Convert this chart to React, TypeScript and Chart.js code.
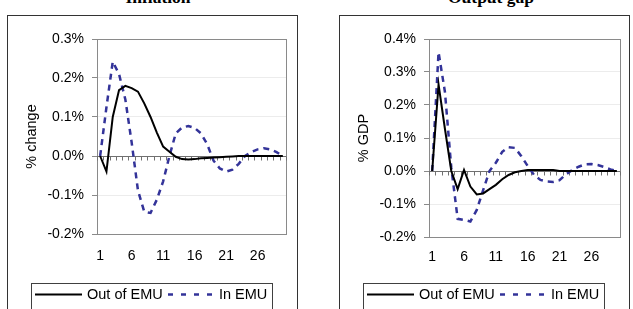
import { useEffect, useRef } from "react";
import { Chart, registerables } from "chart.js";

Chart.register(...registerables);

// Quarters after the shock
const periods = [
  "1", "2", "3", "4", "5", "6", "7", "8", "9", "10",
  "11", "12", "13", "14", "15", "16", "17", "18", "19", "20",
  "21", "22", "23", "24", "25", "26", "27", "28", "29", "30",
];

// Inflation response (% change)
const inflationOutEMU = [
  0, -0.04, 0.1, 0.169, 0.18, 0.174, 0.165, 0.135, 0.1, 0.06,
  0.024, 0.011, -0.002, -0.008, -0.009, -0.008, -0.006, -0.005, -0.004, -0.003,
  -0.002, -0.001, 0, 0, 0, 0, 0, 0, 0, 0,
];
const inflationInEMU = [
  0, 0.125, 0.242, 0.21, 0.145, 0.035, -0.088, -0.143, -0.146, -0.112,
  -0.065, 0.0, 0.058, 0.073, 0.077, 0.072, 0.058, 0.03, -0.012, -0.032,
  -0.04, -0.035, -0.02, 0.0, 0.01, 0.017, 0.02, 0.017, 0.01, 0.0,
];

// Output gap response (% GDP)
const outputOutEMU = [
  0, 0.262, 0.128, 0.0, -0.055, 0.003, -0.047, -0.071, -0.068, -0.055,
  -0.042, -0.025, -0.012, -0.004, 0.0, 0.003, 0.003, 0.003, 0.003, 0.003,
  0, 0, 0, 0, 0, 0, 0, 0, 0, 0,
];
const outputInEMU = [
  0, 0.36, 0.24, 0.01, -0.145, -0.148, -0.153, -0.118, -0.058, 0.0,
  0.025, 0.058, 0.072, 0.07, 0.045, 0.015, -0.012, -0.027, -0.032, -0.033,
  -0.028, -0.01, 0.003, 0.013, 0.02, 0.021, 0.018, 0.012, 0.005, 0.0,
];

const seriesNames = ["Out of EMU", "In EMU"];

const SANS = "'Liberation Sans', Arial, sans-serif";
const SERIF = "'Liberation Serif', 'Times New Roman', serif";
const OUT_COLOR = "#000000";
const IN_COLOR = "#333399";
const IN_DASH = [6, 5];
const LEGEND_DASH = [5, 8];

const CANVAS_W = 289;
const CANVAS_H = 293;

type PanelProps = {
  yTitle: string;
  yMin: number;
  yMax: number;
  outValues: number[];
  inValues: number[];
  areaRight: number;
  areaBottom: number;
  xLabelPad: number;
};

// Frame, zero axis with its tick marks, and the boxed legend
const decorPlugin = {
  id: "panelDecor",
  beforeDatasetsDraw(chart: any) {
    const { ctx, chartArea } = chart;
    const x = chart.scales.x;
    const y = chart.scales.y;
    const l = Math.round(chartArea.left);
    const r = Math.round(chartArea.right);
    const t = Math.round(chartArea.top);
    const b = Math.round(chartArea.bottom);
    ctx.save();
    ctx.strokeStyle = "#8a8a8a";
    ctx.lineWidth = 1;
    ctx.strokeRect(l + 0.5, t + 0.5, r - l, b - t);

    const y0 = Math.round(y.getPixelForValue(0)) + 0.5;
    ctx.strokeStyle = "#707070";
    ctx.beginPath();
    ctx.moveTo(l, y0);
    ctx.lineTo(r, y0);
    const n = chart.data.labels.length;
    const step = x.getPixelForValue(1) - x.getPixelForValue(0);
    for (let i = 0; i <= n; i++) {
      const px =
        i === 0
          ? x.getPixelForValue(0) - step / 2
          : i === n
          ? x.getPixelForValue(n - 1) + step / 2
          : (x.getPixelForValue(i - 1) + x.getPixelForValue(i)) / 2;
      const xx = Math.round(px) + 0.5;
      ctx.moveTo(xx, y0);
      ctx.lineTo(xx, y0 + 4);
    }
    ctx.stroke();
    ctx.restore();
  },
  afterDraw(chart: any) {
    const { ctx } = chart;
    const ds = chart.data.datasets;
    const boxX = 23;
    const boxY = 267;
    const lineY = 278.5;
    ctx.save();
    ctx.strokeStyle = "#404040";
    ctx.lineWidth = 1;
    ctx.strokeRect(boxX + 0.5, boxY + 0.5, 241, 60);

    ctx.lineWidth = 2;
    ctx.strokeStyle = ds[0].borderColor;
    ctx.setLineDash([]);
    ctx.beginPath();
    ctx.moveTo(27, lineY);
    ctx.lineTo(74, lineY);
    ctx.stroke();

    ctx.lineWidth = 2.5;
    ctx.strokeStyle = ds[1].borderColor;
    ctx.setLineDash(LEGEND_DASH);
    ctx.beginPath();
    ctx.moveTo(160, lineY);
    ctx.lineTo(206, lineY);
    ctx.stroke();
    ctx.setLineDash([]);

    ctx.fillStyle = "#000";
    ctx.font = `14.5px ${SANS}`;
    ctx.textBaseline = "middle";
    ctx.textAlign = "left";
    ctx.fillText(ds[0].label, 79, lineY);
    ctx.fillText(ds[1].label, 211, lineY);
    ctx.restore();
  },
};

function Panel(props: PanelProps) {
  const ref = useRef<HTMLCanvasElement | null>(null);
  useEffect(() => {
    if (!ref.current) return;
    const chart = new Chart(ref.current, {
      type: "line",
      data: {
        labels: periods,
        datasets: [
          {
            label: seriesNames[0],
            data: props.outValues,
            borderColor: OUT_COLOR,
            borderWidth: 2,
            pointRadius: 0,
            tension: 0,
            fill: false,
          },
          {
            label: seriesNames[1],
            data: props.inValues,
            borderColor: IN_COLOR,
            borderWidth: 2.5,
            borderDash: IN_DASH,
            pointRadius: 0,
            tension: 0,
            fill: false,
          },
        ],
      },
      options: {
        responsive: false,
        animation: false,
        devicePixelRatio: 1,
        layout: {
          padding: { left: 0, right: CANVAS_W - props.areaRight, top: 23, bottom: 0 },
        },
        plugins: {
          legend: { display: false },
          tooltip: { enabled: false },
        },
        scales: {
          x: {
            type: "category",
            offset: true,
            grid: { display: false, drawTicks: false },
            border: { display: false },
            ticks: {
              autoSkip: false,
              maxRotation: 0,
              padding: props.xLabelPad,
              color: "#000",
              font: { family: SANS, size: 14 },
              callback: (_v: any, i: number) => (i % 5 === 0 ? periods[i] : ""),
            },
            afterFit: (s: any) => {
              s.height = CANVAS_H - props.areaBottom;
            },
          },
          y: {
            min: props.yMin,
            max: props.yMax,
            grid: {
              color: "#ececec",
              tickColor: "#8a8a8a",
              tickLength: 5,
              drawTicks: true,
            },
            border: { display: false },
            ticks: {
              stepSize: 0.1,
              padding: 8,
              color: "#000",
              font: { family: SANS, size: 14 },
              callback: (v: any) => `${Number(v).toFixed(1)}%`,
            },
            title: {
              display: true,
              text: props.yTitle,
              color: "#000",
              font: { family: SANS, size: 14.5 },
              padding: { top: 15, bottom: 0 },
            },
            afterFit: (s: any) => {
              s.width = 89;
            },
          },
        },
      },
      plugins: [decorPlugin],
    });
    return () => chart.destroy();
  }, []);
  return (
    <canvas
      ref={ref}
      width={CANVAS_W}
      height={CANVAS_H}
      style={{ display: "block", width: CANVAS_W, height: CANVAS_H }}
    />
  );
}

const titleStyle = (center: number): React.CSSProperties => ({
  position: "absolute",
  top: -13,
  left: center - 100,
  width: 200,
  textAlign: "center",
  fontFamily: SERIF,
  fontWeight: "bold",
  fontSize: 17.5,
  lineHeight: "20px",
  color: "#000",
  whiteSpace: "nowrap",
});

const panelStyle = (left: number): React.CSSProperties => ({
  position: "absolute",
  left,
  top: 15,
  width: CANVAS_W,
  height: CANVAS_H,
  border: "1px solid #333",
  borderBottom: "none",
  background: "#fff",
});

export default function App() {
  return (
    <div
      style={{
        position: "absolute",
        left: 0,
        top: 0,
        width: 633,
        height: 309,
        overflow: "hidden",
        background: "#fff",
      }}
    >
      <div style={titleStyle(158)}>Inflation</div>
      <div style={titleStyle(491)}>Output gap</div>
      <div style={panelStyle(7)}>
        <Panel
          yTitle="% change"
          yMin={-0.2}
          yMax={0.3}
          outValues={inflationOutEMU}
          inValues={inflationInEMU}
          areaRight={279}
          areaBottom={218}
          xLabelPad={14}
        />
      </div>
      <div style={panelStyle(339)}>
        <Panel
          yTitle="% GDP"
          yMin={-0.2}
          yMax={0.4}
          outValues={outputOutEMU}
          inValues={outputInEMU}
          areaRight={281}
          areaBottom={221}
          xLabelPad={12}
        />
      </div>
    </div>
  );
}
